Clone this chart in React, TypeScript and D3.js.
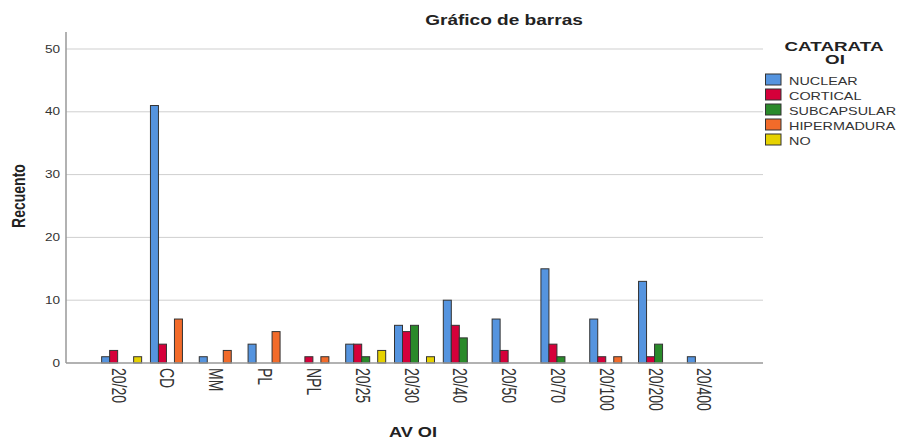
import React, { useEffect, useRef } from 'react'
import * as d3 from 'd3'

const categories = ['20/20', 'CD', 'MM', 'PL', 'NPL', '20/25', '20/30', '20/40', '20/50', '20/70', '20/100', '20/200', '20/400']
const seriesNames = ['NUCLEAR', 'CORTICAL', 'SUBCAPSULAR', 'HIPERMADURA', 'NO']
const nuclear = [1, 41, 1, 3, 0, 3, 6, 10, 7, 15, 7, 13, 1]
const cortical = [2, 3, 0, 0, 1, 3, 5, 6, 2, 3, 1, 1, 0]
const subcapsular = [0, 0, 0, 0, 0, 1, 6, 4, 0, 1, 0, 3, 0]
const hipermadura = [0, 7, 2, 5, 1, 0, 0, 0, 0, 0, 1, 0, 0]
const no = [1, 0, 0, 0, 0, 2, 1, 0, 0, 0, 0, 0, 0]
const yTicks = [0, 10, 20, 30, 40, 50]
const colors = ['#5594df', '#d5003a', '#2a8a2a', '#f26b2a', '#e6d200']

const App = () => {
  const ref = useRef<SVGSVGElement>(null)

  useEffect(() => {
    if (!ref.current) return
    const svg = d3.select(ref.current)
    svg.selectAll('*').remove()

    const left = 66
    const right = 763
    const top = 32
    const bottom = 363
    const font = '"Liberation Sans", Arial, sans-serif'
    const values = [nuclear, cortical, subcapsular, hipermadura, no]

    const x = d3.scaleBand().domain(categories).range([left, right]).paddingInner(0).paddingOuter(0.64)
    const bw = x.bandwidth()
    const x1 = d3.scaleBand().domain(seriesNames).range([(bw - 40) / 2, (bw + 40) / 2])
    const y = d3.scaleLinear().domain([0, 50]).range([bottom, 49])

    // text in the original is drawn stretched sideways, hence the scale()
    svg.append('text')
      .attr('transform', 'translate(504, 25) scale(1.36, 1)')
      .attr('text-anchor', 'middle')
      .attr('font-family', font).attr('font-weight', 'bold').attr('font-size', 14)
      .attr('fill', '#222')
      .text('Gráfico de barras')

    // grid
    svg.append('g').selectAll('line')
      .data(yTicks.filter((d) => d > 0))
      .enter().append('line')
      .attr('x1', left).attr('x2', right)
      .attr('y1', (d) => y(d)).attr('y2', (d) => y(d))
      .attr('stroke', '#cfcfcf').attr('stroke-width', 1)

    // y tick labels
    svg.append('g').selectAll('text')
      .data(yTicks)
      .enter().append('text')
      .attr('transform', (d) => `translate(60, ${y(d) + 3.5}) scale(1.36, 1)`)
      .attr('text-anchor', 'end')
      .attr('font-family', font).attr('font-size', 10)
      .attr('fill', '#333')
      .text((d) => d)

    // bars
    const g = svg.append('g')
    categories.forEach((cat, i) => {
      seriesNames.forEach((s, j) => {
        const v = values[j][i]
        if (!v) return
        g.append('rect')
          .attr('x', (x(cat) as number) + (x1(s) as number))
          .attr('y', y(v))
          .attr('width', x1.bandwidth())
          .attr('height', bottom - y(v))
          .attr('fill', colors[j])
          .attr('stroke', '#333')
          .attr('stroke-width', 1)
      })
    })

    // axes lines
    svg.append('line')
      .attr('x1', left).attr('x2', left).attr('y1', top).attr('y2', bottom)
      .attr('stroke', '#999').attr('stroke-width', 1.5)
    svg.append('line')
      .attr('x1', left).attr('x2', right).attr('y1', bottom).attr('y2', bottom)
      .attr('stroke', '#999').attr('stroke-width', 1.5)

    // x tick labels (rotated)
    svg.append('g').selectAll('text')
      .data(categories)
      .enter().append('text')
      .attr('transform', (d) => `translate(${(x(d) as number) + bw / 2 - 10}, 368) rotate(90) scale(1, 1.42)`)
      .attr('font-family', font).attr('font-size', 14)
      .attr('fill', '#333')
      .text((d) => d)

    // axis titles
    svg.append('text')
      .attr('transform', 'translate(25, 196) rotate(-90) scale(1, 1.35)')
      .attr('text-anchor', 'middle')
      .attr('font-family', font).attr('font-weight', 'bold').attr('font-size', 14)
      .attr('fill', '#222')
      .text('Recuento')
    svg.append('text')
      .attr('transform', 'translate(413, 437) scale(1.3, 1)')
      .attr('text-anchor', 'middle')
      .attr('font-family', font).attr('font-weight', 'bold').attr('font-size', 14)
      .attr('fill', '#222')
      .text('AV OI')

    // legend
    const lg = svg.append('g')
    lg.append('text')
      .attr('transform', 'translate(834, 51) scale(1.45, 1)')
      .attr('text-anchor', 'middle')
      .attr('font-family', font).attr('font-weight', 'bold').attr('font-size', 13)
      .attr('fill', '#222')
      .text('CATARATA')
    lg.append('text')
      .attr('transform', 'translate(835, 64) scale(1.45, 1)')
      .attr('text-anchor', 'middle')
      .attr('font-family', font).attr('font-weight', 'bold').attr('font-size', 13)
      .attr('fill', '#222')
      .text('OI')
    seriesNames.forEach((s, j) => {
      const yy = 74 + j * 15
      lg.append('rect')
        .attr('x', 765.5).attr('y', yy)
        .attr('width', 15.5).attr('height', 11)
        .attr('fill', colors[j]).attr('stroke', '#333').attr('stroke-width', 1)
      lg.append('text')
        .attr('transform', `translate(789, ${yy + 11}) scale(1.44, 1)`)
        .attr('font-family', font).attr('font-size', 10)
        .attr('fill', '#333')
        .text(s)
    })
  }, [])

  return (
    <div style={{ position: 'absolute', left: 0, top: 0 }}>
      <svg ref={ref} width={901} height={439} style={{ display: 'block', background: '#fff' }} />
    </div>
  )
}

export default App
